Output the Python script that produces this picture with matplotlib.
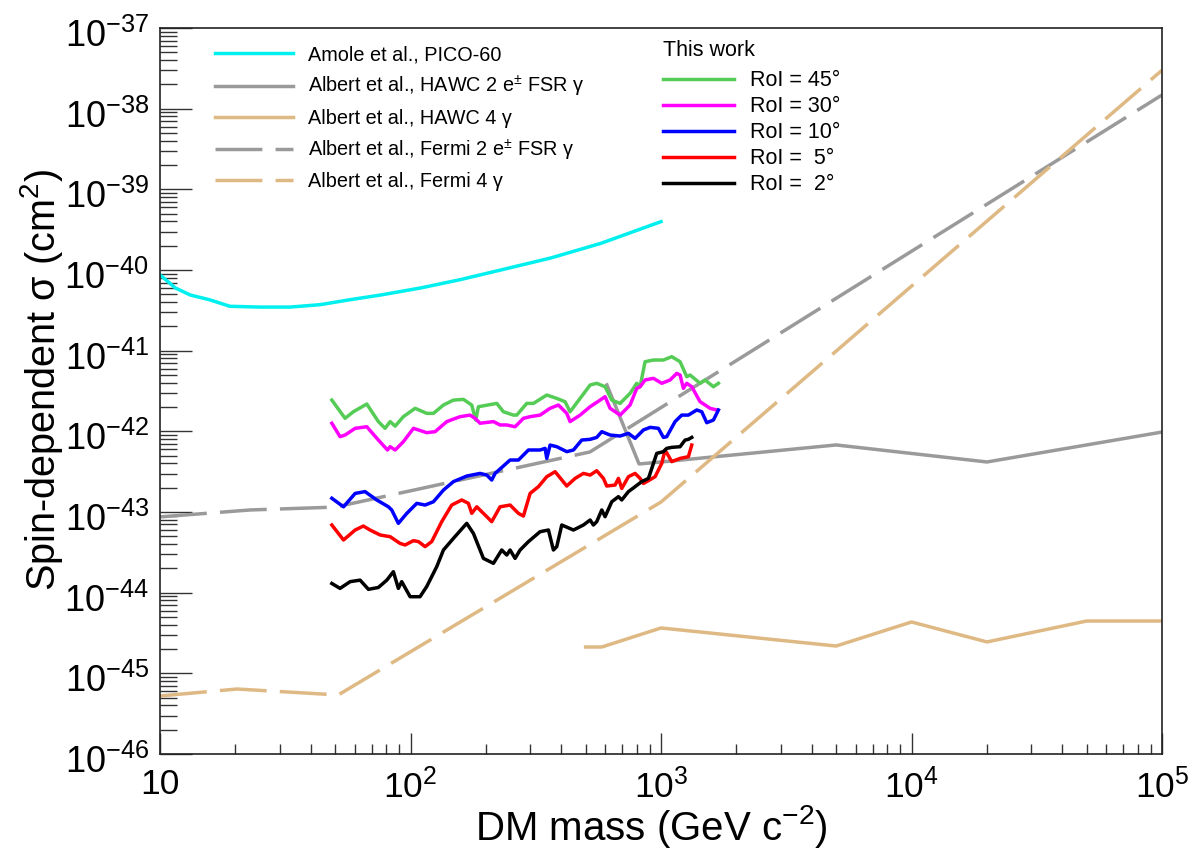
import numpy as np
import matplotlib
matplotlib.use("Agg")
import matplotlib.pyplot as plt
from matplotlib.ticker import LogLocator, FuncFormatter, NullFormatter
from matplotlib.transforms import ScaledTranslation

plt.rcParams["font.family"] = ["Liberation Sans", "DejaVu Sans"]
plt.rcParams["mathtext.fontset"] = "custom"
plt.rcParams["mathtext.rm"] = "Liberation Sans"
plt.rcParams["mathtext.it"] = "Liberation Sans:italic"
plt.rcParams["mathtext.bf"] = "Liberation Sans:bold"

# --- reference limits (GeV, cm^2) ---
pico_m = [10, 11.5, 13.2, 15.8, 19, 25, 33, 43.6, 57, 76, 110, 158, 229, 363, 575, 1000]
pico_s = [8.7e-41, 6.0e-41, 4.9e-41, 4.27e-41, 3.55e-41, 3.47e-41, 3.47e-41, 3.72e-41,
          4.27e-41, 4.9e-41, 6.0e-41, 7.6e-41, 1.0e-40, 1.41e-40, 2.14e-40, 3.98e-40]

hawc2e_m = [608, 817, 1000, 5000, 20000, 100000]
hawc2e_s = [3.76e-42, 3.94e-43, 4.17e-43, 6.78e-43, 4.17e-43, 9.8e-43]

hawc4g_m = [500, 580, 1000, 5000, 10000, 20000, 50000, 100000]
hawc4g_s = [2.12e-45, 2.12e-45, 3.65e-45, 2.18e-45, 4.33e-45, 2.45e-45, 4.45e-45, 4.45e-45]

fermi2e_m = [10, 22.9, 50, 520, 100000]
fermi2e_s = [8.7e-44, 1.06e-43, 1.15e-43, 5.55e-43, 1.48e-38]

fermi4g_m = [10, 20.3, 51.4, 1000, 100000]
fermi4g_s = [5.24e-46, 6.39e-46, 5.39e-46, 1.33e-43, 3.0e-38]

# --- this work ---
roi45_m = [48.5, 54.8, 59.1, 66.9, 74.4, 79.1, 82.9, 86.8, 93.6, 104.3, 116.0, 123.4,
           135.3, 148.3, 162.6, 175.5, 182.0, 186.6, 220.9, 234.8, 257.4, 265.4, 291.0,
           309.4, 349.8, 383.4, 413.9, 433.4, 475.2, 521.0, 553.7, 597.8, 635.7, 686.2,
           752.4, 799.8, 824.7, 863.5, 932.3, 1021.9, 1103.3, 1191.2, 1266.5, 1306.0,
           1431.6, 1499.1, 1618.2, 1694.5]
roi45_s = [2.44e-42, 1.45e-42, 1.75e-42, 2.18e-42, 1.32e-42, 1.09e-42, 1.32e-42, 1.16e-42,
           1.52e-42, 1.93e-42, 1.67e-42, 1.67e-42, 2.12e-42, 2.44e-42, 2.49e-42, 2.12e-42,
           1.38e-42, 2.02e-42, 2.22e-42, 1.75e-42, 1.59e-42, 1.59e-42, 2.22e-42, 2.22e-42,
           2.82e-42, 2.56e-42, 2.33e-42, 1.75e-42, 2.56e-42, 3.75e-42, 3.94e-42, 3.57e-42,
           2.44e-42, 2.22e-42, 2.96e-42, 3.94e-42, 3.57e-42, 7.30e-42, 7.66e-42, 7.66e-42,
           8.42e-42, 7.30e-42, 4.76e-42, 4.99e-42, 3.94e-42, 4.33e-42, 3.57e-42, 3.94e-42]

roi30_m = [48.5, 52.3, 54.8, 60.1, 66.9, 74.4, 80.9, 82.9, 86.8, 93.6, 102.7, 116.0,
           125.3, 139.5, 157.6, 172.8, 180.9, 189.5, 214.2, 227.7, 242.1, 261.4, 282.2,
           300.1, 328.9, 360.6, 389.3, 420.3, 433.4, 475.2, 521.0, 571.0, 597.8, 626.0,
           686.2, 752.4, 799.8, 824.7, 863.5, 932.3, 1006.5, 1086.4, 1155.3, 1191.2,
           1228.2, 1266.5, 1326.0, 1431.6, 1569.4, 1668.6]
roi30_s = [1.26e-42, 8.59e-43, 9.0e-43, 1.09e-42, 1.14e-42, 7.80e-43, 5.87e-43, 6.45e-43,
           5.87e-43, 7.44e-43, 1.09e-42, 9.62e-43, 9.9e-43, 1.32e-42, 1.52e-42, 1.59e-42,
           1.45e-42, 1.26e-42, 1.32e-42, 1.20e-42, 1.20e-42, 1.14e-42, 1.45e-42, 1.52e-42,
           1.59e-42, 1.93e-42, 2.12e-42, 1.67e-42, 1.32e-42, 1.59e-42, 2.02e-42, 2.44e-42,
           2.69e-42, 1.93e-42, 1.59e-42, 2.12e-42, 3.41e-42, 3.57e-42, 4.33e-42, 4.54e-42,
           3.94e-42, 4.33e-42, 5.23e-42, 4.99e-42, 3.41e-42, 3.94e-42, 3.57e-42, 2.33e-42,
           1.93e-42, 1.84e-42]

roi10_m = [48.5, 54.0, 60.1, 65.8, 73.3, 81.6, 84.1, 89.4, 96.6, 105.9, 114.3, 123.4,
           135.3, 148.3, 167.6, 189.5, 201.5, 210.9, 217.5, 249.7, 269.6, 295.5, 328.9,
           344.4, 349.8, 360.6, 383.4, 420.3, 447.0, 482.5, 521.0, 553.7, 579.9, 626.0,
           686.2, 740.9, 787.7, 850.4, 904.3, 976.1, 1021.9, 1053.6, 1137.6, 1209.4,
           1285.9, 1388.5, 1453.8, 1522.1, 1618.2, 1694.5]
roi10_s = [1.48e-43, 1.16e-43, 1.70e-43, 1.79e-43, 1.41e-43, 1.16e-43, 1.06e-43, 7.23e-44,
           9.62e-44, 1.28e-43, 1.22e-43, 1.34e-43, 1.87e-43, 2.38e-43, 2.79e-43, 3.01e-43,
           2.87e-43, 2.49e-43, 3.01e-43, 4.41e-43, 4.41e-43, 5.87e-43, 5.87e-43, 6.15e-43,
           4.62e-43, 6.76e-43, 6.45e-43, 5.60e-43, 5.87e-43, 7.80e-43, 7.96e-43, 8.41e-43,
           9.9e-43, 9.0e-43, 8.75e-43, 9.44e-43, 8.18e-43, 1.04e-42, 1.12e-42, 1.09e-42,
           8.41e-43, 8.59e-43, 1.32e-42, 1.59e-42, 1.59e-42, 1.84e-42, 1.75e-42, 1.28e-42,
           1.38e-42, 1.84e-42]

roi5_m = [48.5, 54.0, 60.1, 64.8, 68.9, 75.6, 82.9, 90.8, 95.1, 102.7, 107.5, 114.3,
          121.5, 133.2, 146.0, 160.1, 170.2, 175.5, 183.8, 201.5, 210.9, 227.7, 249.7,
          269.6, 282.2, 300.1, 323.9, 349.8, 377.6, 420.3, 453.8, 490.0, 521.0, 553.7,
          588.8, 607.0, 655.5, 675.9, 696.9, 740.9, 787.7, 824.7, 850.4, 877.0, 946.8,
          1006.5, 1037.8, 1103.3, 1191.2, 1285.9, 1326.0]
roi5_s = [6.90e-44, 4.50e-44, 5.98e-44, 6.70e-44, 5.98e-44, 5.19e-44, 4.94e-44, 4.08e-44,
          3.90e-44, 4.41e-44, 4.30e-44, 3.72e-44, 4.30e-44, 7.59e-44, 1.22e-43, 1.41e-43,
          1.28e-43, 9.62e-44, 1.16e-43, 8.75e-44, 7.59e-44, 1.16e-43, 1.22e-43, 9.62e-44,
          8.91e-44, 1.70e-43, 2.06e-43, 2.74e-43, 3.16e-43, 2.10e-43, 2.61e-43, 3.01e-43,
          2.87e-43, 3.25e-43, 2.61e-43, 2.10e-43, 2.16e-43, 2.61e-43, 1.96e-43, 2.74e-43,
          3.01e-43, 2.61e-43, 2.26e-43, 2.38e-43, 2.74e-43, 4.01e-43, 5.87e-43, 4.21e-43,
          4.62e-43, 4.85e-43, 6.76e-43]

roi2_m = [48.5, 52.3, 57.4, 62.9, 67.9, 74.4, 80.4, 85.4, 89.4, 92.2, 99.6, 109.1,
          116.0, 127.2, 135.3, 148.3, 167.6, 178.2, 195.4, 214.2, 231.2, 242.1, 249.7,
          261.4, 273.7, 295.5, 328.9, 355.2, 371.8, 383.4, 401.4, 447.0, 490.0, 521.0,
          537.0, 553.7, 579.9, 597.8, 635.7, 675.9, 696.9, 740.9, 787.7, 837.4, 890.6,
          961.3, 1021.9, 1053.6, 1103.3, 1191.2, 1247.1, 1285.9, 1326.0]
roi2_s = [1.30e-44, 1.13e-44, 1.37e-44, 1.43e-44, 1.10e-44, 1.16e-44, 1.43e-44, 1.82e-44,
          1.13e-44, 1.37e-44, 8.91e-45, 8.91e-45, 1.19e-44, 2.10e-44, 3.38e-44, 4.71e-44,
          7.23e-44, 5.43e-44, 2.66e-44, 2.31e-44, 3.38e-44, 2.93e-44, 3.38e-44, 2.66e-44,
          3.38e-44, 4.29e-44, 5.70e-44, 5.98e-44, 3.38e-44, 3.72e-44, 6.90e-44, 5.98e-44,
          6.90e-44, 7.96e-44, 6.90e-44, 7.59e-44, 1.06e-43, 8.75e-44, 1.34e-43, 1.55e-43,
          1.41e-43, 1.79e-43, 2.06e-43, 2.38e-43, 2.61e-43, 5.33e-43, 5.60e-43, 6.15e-43,
          6.33e-43, 6.45e-43, 7.80e-43, 7.96e-43, 8.41e-43]

GRAY = "#9a9a9a"
TAN = "#dfb984"
LW = 2.5
DASH = (13.5, 3.8)

fig = plt.figure(figsize=(11.9, 8.49), dpi=100)
ax = fig.add_axes([0.1345, 0.1119, 0.842, 0.8551])

ref_handles = []
ref_handles += ax.plot(pico_m, pico_s, color="#00f0f0", lw=LW, label="Amole et al., PICO-60")
ref_handles += ax.plot(hawc2e_m, hawc2e_s, color=GRAY, lw=LW,
                       label=r"Albert et al., HAWC 2 e$^{\pm}$ FSR γ")
ref_handles += ax.plot(hawc4g_m, hawc4g_s, color=TAN, lw=LW, label="Albert et al., HAWC 4 γ")
ref_handles += ax.plot(fermi2e_m, fermi2e_s, color=GRAY, lw=LW, dashes=DASH,
                       label=r"Albert et al., Fermi 2 e$^{\pm}$ FSR γ")
ref_handles += ax.plot(fermi4g_m, fermi4g_s, color=TAN, lw=LW, dashes=DASH,
                       label="Albert et al., Fermi 4 γ")

work_handles = []
work_handles += ax.plot(roi45_m, roi45_s, color="#55cc55", lw=LW, label="RoI = 45°")
work_handles += ax.plot(roi30_m, roi30_s, color="#ff00ff", lw=LW, label="RoI = 30°")
work_handles += ax.plot(roi10_m, roi10_s, color="#0000ff", lw=LW, label="RoI = 10°")
work_handles += ax.plot(roi5_m, roi5_s, color="#ff0000", lw=LW, label="RoI =  5°")
work_handles += ax.plot(roi2_m, roi2_s, color="black", lw=LW, label="RoI =  2°")

ax.set_xscale("log")
ax.set_yscale("log")
ax.set_xlim(10, 1e5)
ax.set_ylim(1e-46, 1e-37)


def _fmt(v, _pos):
    n = int(round(np.log10(v)))
    if n == 1:
        return "10"
    return r"$10^{%d}$" % n


# only the decades inside the axis range get a label
ax.set_xticks(10.0 ** np.arange(1, 6))
ax.set_yticks(10.0 ** np.arange(-46, -36))
for axis in (ax.xaxis, ax.yaxis):
    axis.set_minor_locator(LogLocator(base=10, subs=np.arange(2, 10), numticks=100))
    axis.set_major_formatter(FuncFormatter(_fmt))
    axis.set_minor_formatter(NullFormatter())

ax.tick_params(axis="both", which="both", direction="in", top=False, right=False,
               width=1.0, color="#333333")
ax.tick_params(axis="y", which="major", length=23, labelsize=26, pad=8)
ax.tick_params(axis="y", which="minor", length=12)
ax.tick_params(axis="x", which="major", length=15, labelsize=25.5, pad=10)
ax.tick_params(axis="x", which="minor", length=7.5)
for sp in ax.spines.values():
    sp.set_linewidth(1.2)
    sp.set_color("#222222")

ax.set_xlabel(r"DM mass (GeV c$^{-2}$)", fontsize=29)
ax.xaxis.set_label_coords(0.49, -0.067)
ax.set_ylabel(r"Spin-dependent σ (cm$^{2}$)", fontsize=28.5)
ax.yaxis.set_label_coords(-0.095, 0.515)

leg1 = ax.legend(handles=ref_handles, loc="upper left", bbox_to_anchor=(0.055, 0.976),
                 frameon=False, fontsize=14.3, handlelength=3.9, handletextpad=0.75,
                 labelspacing=0.48, borderpad=0, borderaxespad=0)
ax.add_artist(leg1)
leg2 = ax.legend(handles=work_handles, loc="upper left", bbox_to_anchor=(0.502, 0.984),
                 frameon=False, fontsize=15.5, title="This work", title_fontsize=15.5,
                 alignment="left", handlelength=3.3, handletextpad=0.75,
                 labelspacing=0.23, borderpad=0, borderaxespad=0)
leg2._legend_box.sep = 7

fig.canvas.draw()
shift = ScaledTranslation(0, -0.05, fig.dpi_scale_trans)
for lab in ax.get_yticklabels():
    lab.set_transform(lab.get_transform() + shift)

fig.savefig("out.png", dpi=100)
